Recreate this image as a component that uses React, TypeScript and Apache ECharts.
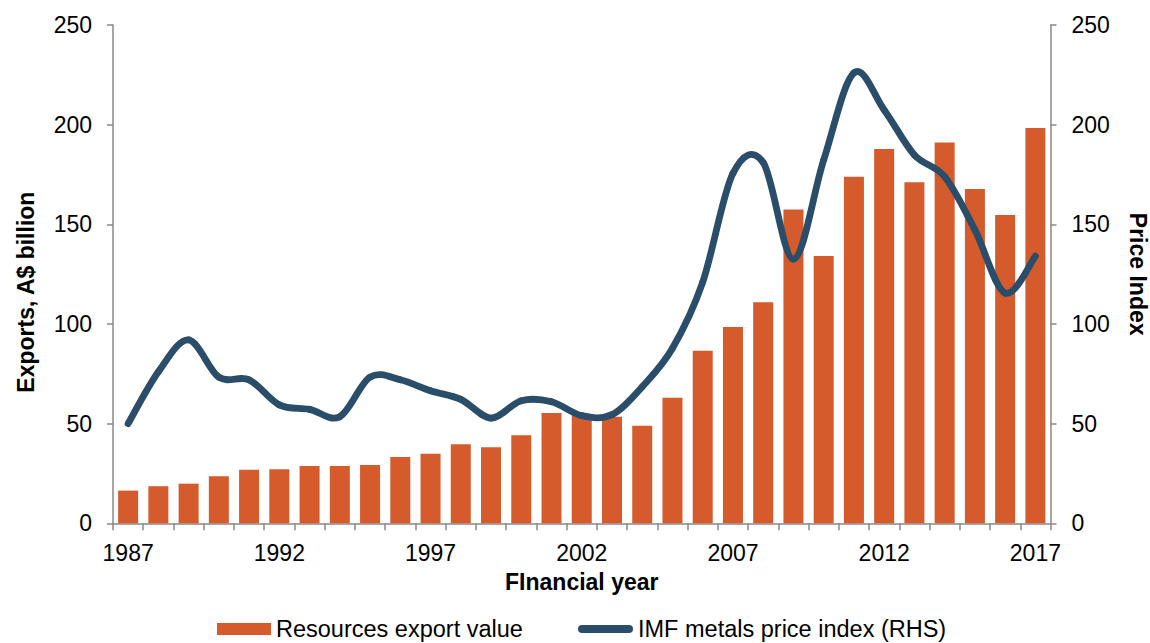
import React, { useEffect, useRef } from "react";
import * as echarts from "echarts";

const years = [
  "1987", "1988", "1989", "1990", "1991", "1992", "1993", "1994", "1995", "1996",
  "1997", "1998", "1999", "2000", "2001", "2002", "2003", "2004", "2005", "2006",
  "2007", "2008", "2009", "2010", "2011", "2012", "2013", "2014", "2015", "2016", "2017",
];

const exportValues = [
  16.4, 18.6, 19.9, 23.6, 26.9, 27.1, 28.8, 28.8, 29.3, 33.3,
  34.9, 39.6, 38.1, 44.2, 55.3, 54.5, 53.5, 49, 63, 86.6,
  98.5, 110.9, 157.4, 134.1, 173.9, 187.8, 171.1, 191, 167.7, 154.7, 198.3,
];

const imfIndex = [
  50, 76, 92, 73.3, 72, 59.4, 57.2, 53.5, 73.3, 72,
  66.5, 62.2, 52.8, 61.5, 61, 54, 54.5, 68.5, 87.8, 121,
  175.6, 181, 132.5, 182.3, 226, 207.4, 184.8, 173.9, 147.2, 115.5, 134,
];

const barName = "Resources export value";
const lineName = "IMF metals price index (RHS)";
const xName = "FInancial year";
const leftName = "Exports, A$ billion";
const rightName = "Price Index";

const BAR = "#D55A2C";
const LINE = "#2A4D69";
const AXIS = "#898989";
const FONT = "'Liberation Sans', Arial, sans-serif";

export default function App() {
  const ref = useRef<HTMLDivElement>(null);
  useEffect(() => {
    document.body.style.margin = "0";
    const chart = echarts.init(ref.current!, null, { renderer: "svg" });
    const valueAxis = (pos: "left" | "right", name: string) => ({
      type: "value",
      position: pos,
      min: 0,
      max: 250,
      interval: 50,
      name,
      nameLocation: "middle",
      nameGap: 76,
      nameRotate: pos === "left" ? 90 : -90,
      nameTextStyle: {
        fontFamily: FONT,
        fontSize: 23,
        fontWeight: "bold",
        color: "#000",
        padding: pos === "left" ? [0, 36, 0, 0] : 0,
      },
      splitLine: { show: false },
      axisLine: { show: true, lineStyle: { color: AXIS, width: 1.5 } },
      axisTick: { show: true, length: 6, lineStyle: { color: AXIS, width: 1.5 } },
      axisLabel: { fontFamily: FONT, fontSize: 23, color: "#000", margin: 21 },
    });
    chart.setOption({
      animation: false,
      backgroundColor: "#fff",
      grid: { left: 113, right: 99.5, top: 25, bottom: 119.7, containLabel: false, outerBoundsMode: "none" },
      legend: [
        {
          data: [{ name: barName }],
          left: 217,
          top: 617,
          padding: 0,
          itemWidth: 54,
          itemHeight: 12,
          icon: "rect",
          textStyle: { fontFamily: FONT, fontSize: 23.5, color: "#000" },
        },
        {
          data: [
            {
              name: lineName,
              icon: "path://M4,0 L51,0 A4,4 0 0 1 51,8 L4,8 A4,4 0 0 1 4,0 Z",
              itemStyle: { color: LINE },
            },
          ],
          left: 578,
          top: 617,
          padding: 0,
          itemWidth: 55,
          itemHeight: 8,
          textStyle: { fontFamily: FONT, fontSize: 23.5, color: "#000" },
        },
      ],
      xAxis: {
        type: "category",
        data: years,
        boundaryGap: true,
        name: xName,
        nameLocation: "middle",
        nameGap: 47,
        nameTextStyle: { fontFamily: FONT, fontSize: 23, fontWeight: "bold", color: "#000" },
        axisLine: { show: true, lineStyle: { color: AXIS, width: 1.5 } },
        axisTick: { show: true, interval: 0, length: 7, lineStyle: { color: AXIS, width: 1.5 } },
        axisLabel: { interval: 4, fontFamily: FONT, fontSize: 23, color: "#000", margin: 18 },
      },
      yAxis: [valueAxis("left", leftName), valueAxis("right", rightName)],
      series: [
        {
          name: barName,
          type: "bar",
          data: exportValues,
          yAxisIndex: 0,
          barWidth: 20,
          z: 2,
          itemStyle: { color: BAR },
        },
        {
          name: lineName,
          type: "custom",
          coordinateSystem: "cartesian2d",
          yAxisIndex: 1,
          z: 5,
          data: imfIndex.map((v, i) => [i, v]),
          encode: { x: 0, y: 1 },
          itemStyle: { color: LINE },
          renderItem: (params: any, api: any) => {
            const i = params.dataIndexInside;
            const n = params.dataInsideLength;
            if (i >= n - 1) return { type: "group", children: [] };
            const pt = (k: number) => api.coord([api.value(0, k), api.value(1, k)]);
            const p0 = pt(Math.max(i - 1, 0));
            const p1 = pt(i);
            const p2 = pt(i + 1);
            const p3 = pt(Math.min(i + 2, n - 1));
            return {
              type: "bezierCurve",
              z2: 10,
              shape: {
                x1: p1[0],
                y1: p1[1],
                x2: p2[0],
                y2: p2[1],
                cpx1: p1[0] + (p2[0] - p0[0]) / 6,
                cpy1: p1[1] + (p2[1] - p0[1]) / 6,
                cpx2: p2[0] - (p3[0] - p1[0]) / 6,
                cpy2: p2[1] - (p3[1] - p1[1]) / 6,
              },
              style: { stroke: LINE, lineWidth: 6.8, fill: null, lineCap: "round" },
            };
          },
        },
      ],
    });
    return () => chart.dispose();
  }, []);
  return <div ref={ref} style={{ width: 1150, height: 643 }} />;
}
